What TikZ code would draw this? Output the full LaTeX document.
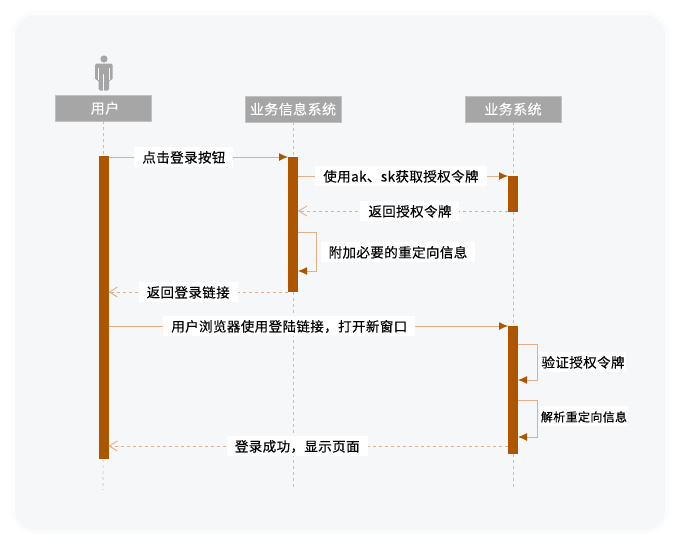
\documentclass[tikz,border=0pt]{standalone}
\usepackage{fontspec}
\setmainfont[LetterSpace=3,FakeBold=.25]{Noto Sans CJK SC}
\usetikzlibrary{arrows.meta, positioning}
\definecolor{barcol}{HTML}{AE5500}
\definecolor{linecol}{HTML}{E0B08A}
\definecolor{headcol}{HTML}{A6A6A6}
\definecolor{pagecol}{HTML}{F6F7F9}
\tikzset{
	head/.style={rectangle, fill=headcol, draw=headcol!70!white, text=white, minimum width=96pt, minimum height=26pt, inner sep=0pt, text height=12pt, text depth=1pt, font=\fontsize{14}{15}\selectfont},
	bar/.style={rectangle, fill=barcol, minimum width=10pt, inner sep=0pt},
	lifeline/.style={draw=black!25, dashed, line width=.6pt},
	call/.style={draw=linecol, line width=.9pt, -{Latex[length=9pt,width=8pt,color=barcol]}},
	answer/.style={draw=linecol, line width=.9pt, dashed, -{Straight Barb[length=8pt,width=10pt]}},
	msg/.style={fill=white, text=black, minimum height=20pt, inner xsep=8pt, inner ysep=0pt, text height=12pt, text depth=1pt, font=\fontsize{13.5}{15}\selectfont}
}
\begin{document}
\begin{tikzpicture}[x=1pt, y=-1pt]
	\useasboundingbox (0,0) rectangle (682,546);
	\fill[pagecol!40!white, rounded corners=24pt] (11,11) rectangle (669,534);
	\fill[pagecol, rounded corners=20pt] (15,15) rectangle (665,530);
	% person
	\fill[headcol] (104,59) circle (3.6);
	\fill[headcol, rounded corners=1.5pt] (95,63.5) -- (112.5,63.5) -- (112.5,80) -- (109,80) -- (109,90.5) -- (98.5,90.5) -- (98.5,80) -- (95,80) -- cycle;
	\draw[pagecol, line width=.5pt] (103.7,74) -- (103.7,90.5) (98.7,68) -- (98.7,80) (108.8,68) -- (108.8,80);
	% heads
	\node[head] (head_u) at (103.5,108) {\hspace*{3pt}用户};
	\node[head] (head_a) at (293,109) {业务信息系统};
	\node[head] (head_b) at (513,109) {业务系统};
	% bars
	\node[bar, minimum height=303pt] (bar_u) at (103.5,307.5) {};
	\node[bar, minimum height=135pt] (bar_a) at (293,224.5) {};
	\node[bar, minimum height=36pt] (bar_b1) at (513,194) {};
	\node[bar, minimum height=128pt] (bar_b2) at (513,390) {};
	% lifeline ends
	\coordinate (end_u) at (103,490);
	\coordinate (end_a) at (293,490);
	\coordinate (end_b) at (513,490);
	\path[lifeline] (head_u) -- (bar_u) (bar_u) -- (end_u);
	\path[lifeline] (head_a) -- (bar_a) (bar_a) -- (end_a);
	\path[lifeline] (head_b) -- (bar_b1) (bar_b1) -- (bar_b2) (bar_b2) -- (end_b);
	% message ends
	\coordinate (m1_s) at (108.5,157);
	\coordinate (m1_e) at (288,157);
	\coordinate (m2_s) at (298,176);
	\coordinate (m2_e) at (508,176);
	\coordinate (m3_s) at (508,211);
	\coordinate (m3_e) at (298,211);
	\coordinate (m4_s) at (288,292);
	\coordinate (m4_e) at (108.5,292);
	\coordinate (m5_s) at (108.5,326);
	\coordinate (m5_e) at (508,326);
	\coordinate (m6_s) at (508,446);
	\coordinate (m6_e) at (108.5,446);
	\path
	(m1_s) edge[call] node[msg, pos=.42] (t_1) {点击登录按钮} (m1_e)
	(m2_s) edge[call] node[msg, pos=.49] (t_2) {使用ak、sk获取授权令牌} (m2_e)
	(m5_s) edge[call] node[msg, pos=.4525] (t_5) {用户浏览器使用登陆链接，打开新窗口} (m5_e);
	\path
	(m3_s) edge[answer] node[msg, pos=.467] (t_3) {返回授权令牌} (m3_e)
	(m4_s) edge[answer] node[msg, pos=.556] (t_4) {返回登录链接} (m4_e)
	(m6_s) edge[answer] node[msg, pos=.5275] (t_6) {登录成功，显示页面} (m6_e);
	% self calls
	\coordinate (s1_s) at (298,232);
	\coordinate (s1_e) at (298,271);
	\coordinate (s2_s) at (518,344);
	\coordinate (s2_e) at (518,380);
	\coordinate (s3_s) at (518,400);
	\coordinate (s3_e) at (518,437);
	\draw[call] (s1_s) -- ++(18,0) |- (s1_e);
	\draw[call] (s2_s) -- ++(19,0) |- (s2_e);
	\draw[call] (s3_s) -- ++(19,0) |- (s3_e);
	\node[msg] (t_s1) at (398,252) {附加必要的重定向信息};
	\node[msg, inner xsep=1pt] (t_s2) at (583,362) {验证授权令牌};
	\node[msg, inner xsep=1pt, font=\fontsize{12}{14}\selectfont] (t_s3) at (584,416) {解析重定向信息};
\end{tikzpicture}
\end{document}
